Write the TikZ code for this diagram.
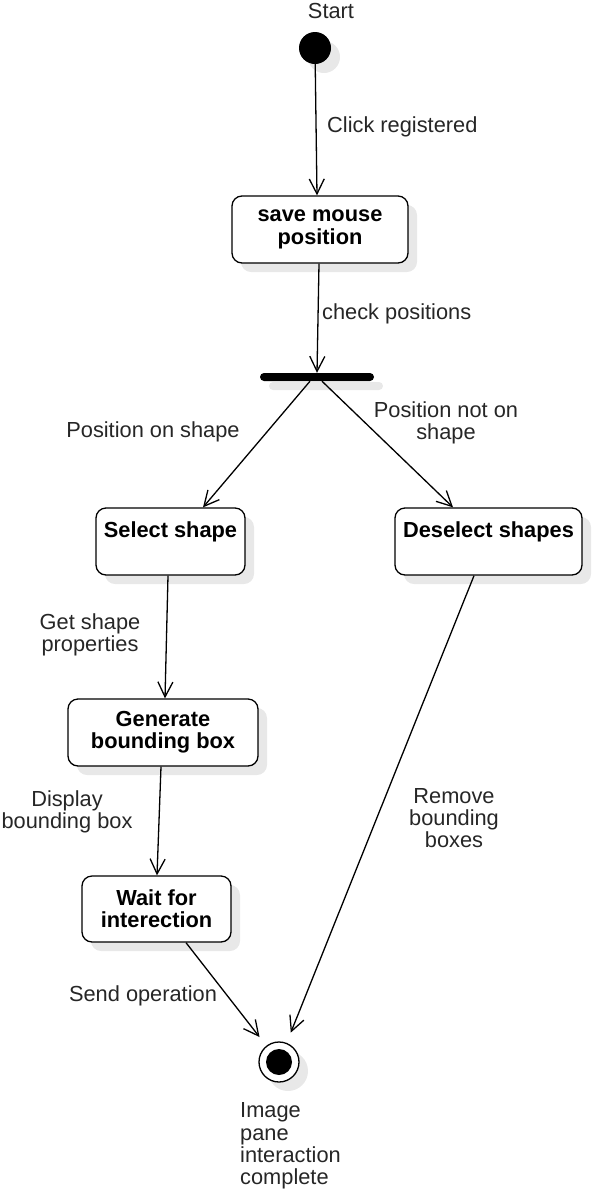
\documentclass[tikz,border=0pt]{standalone}
\usepackage{fontspec}
\setmainfont{Liberation Sans}
\usetikzlibrary{arrows.meta, shadows}

\begin{document}
\begin{tikzpicture}[x=1pt, y=-1pt,
    txt/.style = {font=\fontsize{21.8}{22.3}\selectfont, text=black!85},
    shade/.style = {drop shadow={shadow xshift=9pt, shadow yshift=-9pt, fill=black!9, opacity=1}},
    act/.style = {draw, rounded corners=10pt, line width=1.3pt, fill=white, align=center, inner sep=0pt,
                  font=\bfseries\fontsize{21.8}{22.3}\selectfont, shade},
    lbl/.style = {txt, align=center, inner sep=0pt},
    flow/.style = {line width=1.3pt, -{Straight Barb[length=15pt, width=15pt, line width=1.3pt]}}]
      \useasboundingbox (0,0) rectangle (593,1192);

      % start and end
      \node[circle, fill=black, minimum size=32pt, inner sep=0pt, shade] (start) at (315,48) {};
      \node[lbl] (startlbl) at (331,11) {Start};
      \node[circle, draw, line width=1.3pt, fill=white, minimum size=40pt, inner sep=0pt, shade] (stop) at (279,1062) {};
      \node[circle, fill=black, minimum size=26pt, inner sep=0pt] (stopdot) at (stop) {};
      \node[lbl, align=left, anchor=west] (stoplbl) at (240,1146) {Image\\pane\\interaction\\complete};

      % fork bar
      \node[fill=black, rounded corners=4pt, minimum width=114pt, minimum height=8pt, inner sep=0pt, shade] (fork) at (317,377) {};

      % activities
      \node[act, minimum width=176pt, minimum height=67pt] (save) at (320,229.5) {save mouse\\position};
      \node[act, minimum width=149pt, text height=29pt, text depth=38pt] (select) at (170.5,541.5) {Select shape};
      \node[act, minimum width=187pt, text height=29pt, text depth=38pt] (deselect) at (488.5,541.5) {Deselect shapes};
      \node[act, minimum width=190pt, minimum height=67pt] (bbox) at (163,732.5) {Generate\\bounding box};
      \node[act, minimum width=149pt, minimum height=66pt] (wait) at (156.5,909) {Wait for\\interection};

      % labels
      \node[lbl, anchor=west] (clicklbl) at (327,127) {Click registered};
      \node[lbl, anchor=west] (checklbl) at (322,314) {check positions};
      \node[lbl] (onlbl) at (153,432) {Position on shape};
      \node[lbl] (offlbl) at (446,423) {Position not on\\shape};
      \node[lbl] (proplbl) at (90,635) {Get shape\\properties};
      \node[lbl] (showlbl) at (67,812) {Display\\bounding box};
      \node[lbl] (removelbl) at (454,818) {Remove\\bounding\\boxes};
      \node[lbl] (sendlbl) at (143,996) {Send operation};

      \path[flow]
      (start)                       edge ([xshift=-3pt]save.north)
      ([xshift=-1pt]save.south)     edge (fork.north)
      ([xshift=-7pt]fork.south)     edge ([xshift=32.5pt]select.north)
      ([xshift=5pt]fork.south)      edge ([xshift=-35.5pt]deselect.north)
      ([xshift=-2.5pt]select.south) edge ([xshift=2pt]bbox.north)
      ([xshift=-2pt]bbox.south)     edge ([xshift=0.5pt]wait.north)
      ([xshift=29.5pt]wait.south)   edge[shorten >=11pt] (stop)
      ([xshift=-14.5pt]deselect.south) edge[shorten >=11pt] (stop);
\end{tikzpicture}
\end{document}
